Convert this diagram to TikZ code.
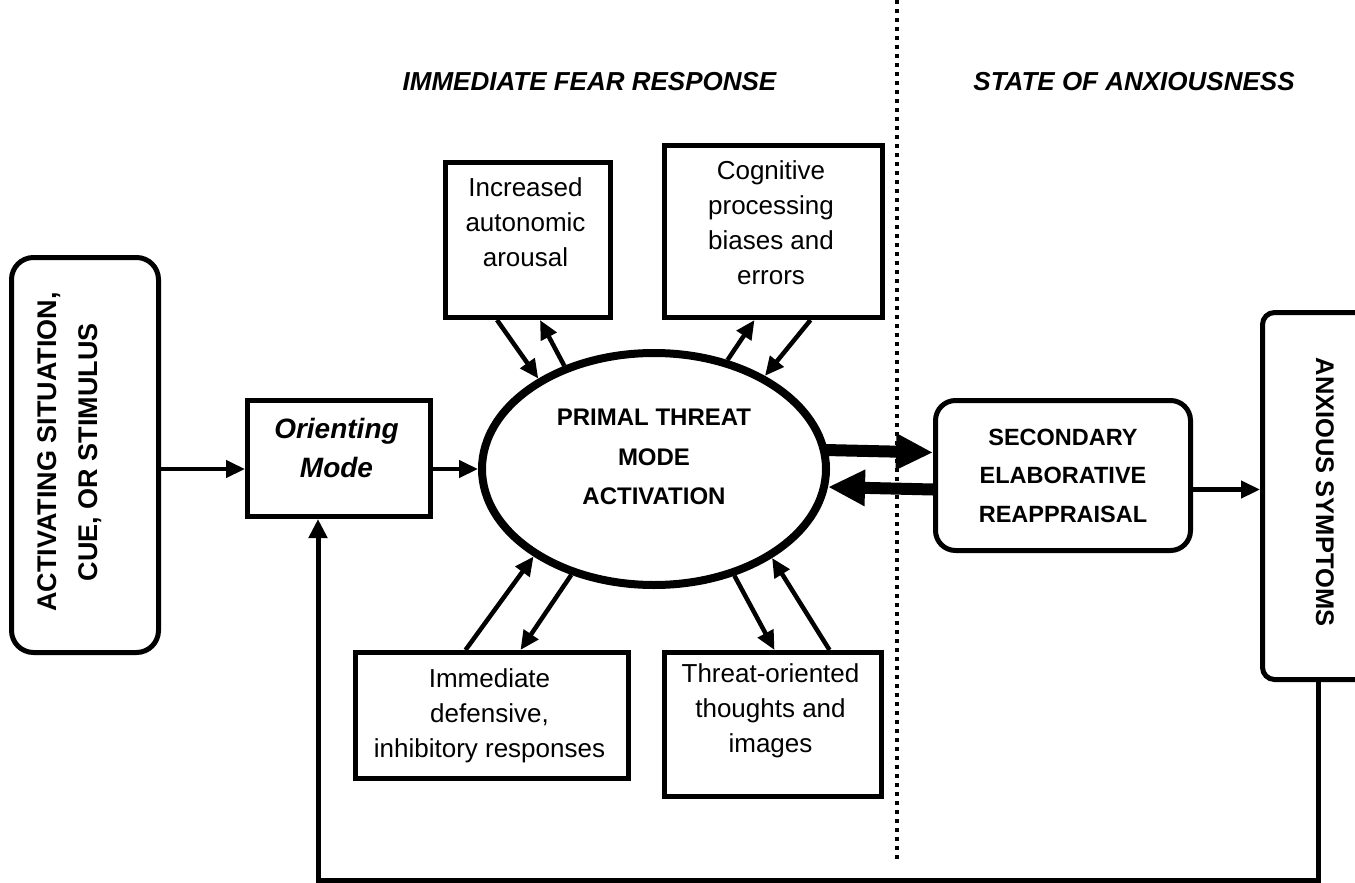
\documentclass[tikz,border=0pt]{standalone}
\usepackage{fontspec}
\setmainfont{Liberation Sans}
\usetikzlibrary{arrows.meta,calc,shapes.geometric}
\newcommand\fsz[2]{\fontsize{#1}{#2}\selectfont}
\begin{document}
\begin{tikzpicture}[x=1pt,y=-1pt,
  boxline/.style={draw, line width=5pt},
  plainbox/.style={boxline, rectangle, inner sep=0pt, anchor=north west},
  roundbox/.style={plainbox, rounded corners=#1},
  txt/.style={inner sep=0pt, align=center, font=\fsz{26}{35}},
  title/.style={inner sep=0pt, font=\fsz{26}{30}\bfseries\itshape},
  arr/.style={line width=4.5pt, -{Triangle[length=19pt,width=17pt]}},
  bigarr/.style={line width=12pt, -{Triangle[length=37pt,width=34pt]}},
  fbline/.style={line width=5pt, -{Triangle[length=19pt,width=18pt]}}
]
\useasboundingbox (0,0) rectangle (1355,883);

% divider
\draw[line width=4pt, dash pattern=on 4pt off 5pt] (897,0) -- (897,860);

% titles
\node[title] (t1) at (589.5,82) {IMMEDIATE FEAR RESPONSE};
\node[title] (t2) at (1134,82) {STATE OF ANXIOUSNESS};

% boxes
\node[roundbox=22pt, minimum width=147pt, minimum height=395pt] (act) at (9,255) {};
\node[inner sep=0pt, align=center, rotate=90, font=\fsz{27}{41}\bfseries] (acttxt) at (70,452) {ACTIVATING SITUATION,\\CUE, OR STIMULUS};

\node[plainbox, minimum width=183pt, minimum height=116pt] (ori) at (245,398) {};
\node[inner sep=0pt, align=center, font=\fsz{28}{39}\bfseries\itshape] (oritxt) at (336.5,447.5) {Orienting\\Mode};

\node[plainbox, minimum width=165pt, minimum height=155pt] (inc) at (443,160) {};
\node[txt] (inctxt) at (525.5,222) {Increased\\autonomic\\arousal};

\node[plainbox, minimum width=218pt, minimum height=172pt] (cog) at (662,143) {};
\node[txt] (cogtxt) at (771,222.5) {Cognitive\\processing\\biases and\\errors};

\node[plainbox, minimum width=273pt, minimum height=126pt] (imm) at (353,650) {};
\node[txt] (immtxt) at (489.5,716) {Immediate\\defensive,\\inhibitory responses};

\node[plainbox, minimum width=217pt, minimum height=144pt] (thr) at (662,650) {};
\node[txt] (thrtxt) at (770.5,711) {Threat-oriented\\thoughts and\\images};

\node[draw, ellipse, line width=8pt, inner sep=0pt, minimum width=344pt, minimum height=232pt] (ell) at (654,469) {};
\node[inner sep=0pt, align=center, font=\fsz{24}{39.5}\bfseries] (elltxt) at (654,457) {PRIMAL THREAT\\MODE\\ACTIVATION};

\node[roundbox=20pt, minimum width=255pt, minimum height=150pt, align=center, font=\fsz{23.5}{38.5}\bfseries] (sec) at (933,398) {SECONDARY\\ELABORATIVE\\REAPPRAISAL};

\node[roundbox=12pt, minimum width=120pt, minimum height=367pt] (anx) at (1260,310) {};
\node[inner sep=0pt, rotate=-90, font=\fsz{25.5}{30}\bfseries] (anxtxt) at (1325,492) {ANXIOUS SYMPTOMS};

% connectors
\draw[arr] (act.east |- ell.west) -- (ori.west |- ell.west);
\draw[arr] (ori.east |- ell.west) -- (ell.west);

\draw[arr] ($(inc.south)+(-31,0)$) -- (ell.142);
\draw[arr] (ell.131) -- ($(inc.south)+(12,0)$);
\draw[arr] (ell.56) -- ($(cog.south)+(-19,0)$);
\draw[arr] ($(cog.south)+(37,0)$) -- (ell.40);
\draw[arr] ($(imm.north)+(-26.5,0)$) -- (ell.216);
\draw[arr] (ell.232) -- ($(imm.north)+(28.5,0)$);
\draw[arr] (ell.307) -- ($(thr.north)+(1.5,0)$);
\draw[arr] ($(thr.north)+(56.5,0)$) -- (ell.323);

\draw[bigarr] ($(ell.east)+(-5,-19)$) -- ($(sec.west)+(0,-23)$);
\draw[bigarr] ($(sec.west)+(0,14)$) -- ($(ell.east)+(-2,18)$);

\coordinate (s1) at ($(sec.east)+(0,14)$);
\draw[arr] (s1) -- (s1 -| anx.west);

\coordinate (fbA) at ($(anx.south)+(-4,0)$);
\coordinate (fbB) at (318,880);
\draw[fbline] (fbA) |- (fbB) -- (ori.south -| fbB);
\end{tikzpicture}
\end{document}
